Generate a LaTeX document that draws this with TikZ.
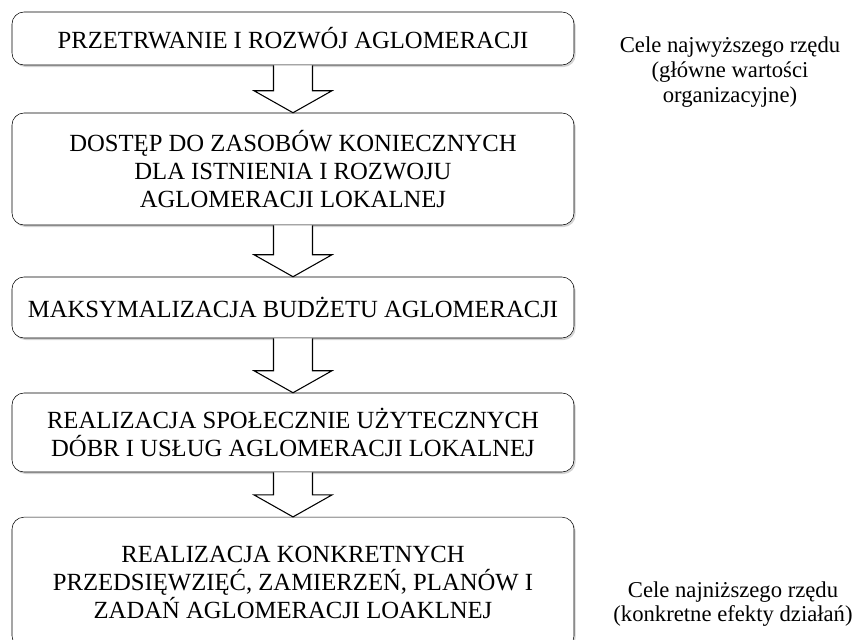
\documentclass[tikz,border=0pt]{standalone}
\usepackage{fontspec}
\setmainfont{Liberation Serif}
\usetikzlibrary{calc,shadows}
\begin{document}
\begin{tikzpicture}[x=0.75pt,y=-0.75pt]
\tikzstyle{blok}=[draw,rounded corners=9pt,fill=white,minimum width=421.5pt,align=center,inner sep=0pt,font=\fontsize{18.5}{21}\selectfont,drop shadow={shadow xshift=1.2pt,shadow yshift=-1.5pt,opacity=0.35}]% cajas de cada nivel
\tikzstyle{strzalka}=[draw,fill=white,line width=0.8pt]% flecha gruesa entre cajas
\tikzstyle{opis}=[align=center,font=\fontsize{17}{18.5}\selectfont]% texto a la derecha
\useasboundingbox (0,0) rectangle (866,639);
\node[blok,minimum height=39.75pt] (b1) at (293,38.5) {PRZETRWANIE I ROZWÓJ AGLOMERACJI};
\node[blok,minimum height=84pt] (b2) at (293,169) {DOSTĘP DO ZASOBÓW KONIECZNYCH\\DLA ISTNIENIA I ROZWOJU\\AGLOMERACJI LOKALNEJ};
\node[blok,minimum height=45.75pt] (b3) at (293,307.5) {MAKSYMALIZACJA BUDŻETU AGLOMERACJI};
\node[blok,minimum height=59.25pt] (b4) at (293,432.5) {REALIZACJA SPOŁECZNIE UŻYTECZNYCH\\DÓBR I USŁUG AGLOMERACJI LOKALNEJ};
\node[blok,minimum height=98pt] (b5) at (293,582.5) {REALIZACJA KONKRETNYCH\\PRZEDSIĘWZIĘĆ, ZAMIERZEŃ, PLANÓW I\\ZADAŃ AGLOMERACJI LOAKLNEJ};
\node[opis] (g) at (730,72) {Cele najwyższego rzędu\\(główne wartości\\organizacyjne)};% arriba
\node[opis] (d) at (733,604) {Cele najniższego rzędu\\(konkretne efekty działań)};% abajo
\foreach \a/\b in {b1/b2,b2/b3,b3/b4,b4/b5}
\draw[strzalka] ($(\a.south)+(-19.5,0)$) -- ($(\b.north)+(-19.5,-22)$) -- ($(\b.north)+(-39,-22)$) -- (\b.north) -- ($(\b.north)+(39,-22)$) -- ($(\b.north)+(19.5,-22)$) -- ($(\a.south)+(19.5,0)$);
\end{tikzpicture}
\end{document}
